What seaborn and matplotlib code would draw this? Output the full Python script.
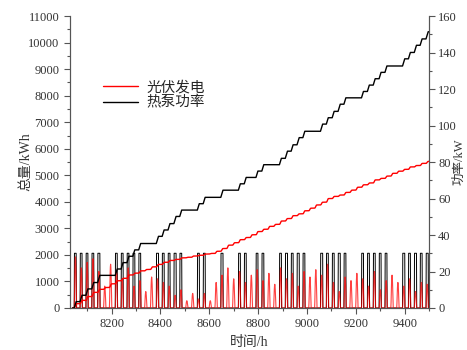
import matplotlib
matplotlib.use('Agg')

import matplotlib.pyplot as plt
from matplotlib.ticker import MultipleLocator
import seaborn as sns
import numpy as np
import pandas as pd

# first day shown starts at hour 8040, 61 days
start_hour = 8040

# heat pump: hours of operation per day at hp_kw (weekends / holidays = 0)
hp_kw = 30
hp_hours = [
    8, 8, 8, 8, 9, 0, 0,
    8, 8, 8, 8, 8, 0, 0,
    9, 8, 8, 9, 8, 0, 0,
    8, 8, 0, 0, 9, 0, 0,
    8, 8, 0, 8, 8, 0, 0,
    8, 9, 8, 9, 8, 0, 0,
    9, 8, 8, 9, 8, 0, 0,
    8, 8, 8, 8, 8, 0, 0,
    9, 8, 9, 8, 9,
]
hp_start = 8  # switched on at 8:00

# PV: daily peak power (kW) and normalised hourly profile from 8:00
pv_peak = [
    28, 22, 25, 27, 20, 12, 24,
    20, 16, 22, 12, 15, 9, 17,
    16, 14, 12, 7, 10, 4, 8,
    5, 8, 4, 14, 18, 22, 16,
    20, 14, 18, 21, 15, 19, 13,
    22, 16, 19, 12, 20, 17, 21,
    18, 24, 14, 9, 17, 15, 19,
    16, 12, 20, 10, 15, 18, 14,
    12, 16, 9, 14, 13,
]
pv_shape = [0.17, 0.5, 0.77, 0.94, 1.0, 0.94, 0.77, 0.5, 0.17]
pv_start = 8

# build hourly series
n_days = len(hp_hours)
hp_power = np.zeros(n_days * 24)
pv_power = np.zeros(n_days * 24)
for d in range(n_days):
    h0 = d * 24
    hp_power[h0 + hp_start:h0 + hp_start + hp_hours[d]] = hp_kw
    pv_power[h0 + pv_start:h0 + pv_start + len(pv_shape)] = np.array(pv_shape) * pv_peak[d]

df = pd.DataFrame({
    'hour': start_hour + np.arange(n_days * 24),
    'hp': hp_power,
    'pv': pv_power,
})
df['hp_cum'] = df['hp'].cumsum()
df['pv_cum'] = df['pv'].cumsum()

sns.set_style('ticks')
plt.rcParams['font.family'] = ['Liberation Serif', 'Noto Sans CJK SC']
plt.rcParams['axes.unicode_minus'] = False

fig = plt.figure(figsize=(4.67, 3.5), dpi=100)
ax = fig.add_axes([0.15, 0.12, 0.769, 0.834])
ax2 = ax.twinx()

# power on right axis
sns.lineplot(data=df, x='hour', y='hp', ax=ax2, color='black', linewidth=0.7)
sns.lineplot(data=df, x='hour', y='pv', ax=ax2, color='red', linewidth=0.8, alpha=0.75)

# cumulative on left axis, drawn on top
sns.lineplot(data=df, x='hour', y='pv_cum', ax=ax, color='red', linewidth=1.0, label='光伏发电')
sns.lineplot(data=df, x='hour', y='hp_cum', ax=ax, color='black', linewidth=1.0, label='热泵功率')
ax.set_zorder(ax2.get_zorder() + 1)
ax.patch.set_visible(False)

ax.set_xlim(8030, 9500)
ax.set_ylim(0, 11000)
ax2.set_ylim(0, 160)

ax.xaxis.set_major_locator(MultipleLocator(200))
ax.xaxis.set_minor_locator(MultipleLocator(100))
ax.yaxis.set_major_locator(MultipleLocator(1000))
ax.yaxis.set_minor_locator(MultipleLocator(500))
ax2.yaxis.set_major_locator(MultipleLocator(20))
ax2.yaxis.set_minor_locator(MultipleLocator(10))

for a in (ax, ax2):
    a.spines['top'].set_visible(False)
    for s in a.spines.values():
        s.set_color('#555555')
    a.tick_params(which='major', length=4, width=0.8, colors='#555555', labelcolor='#333333', labelsize=9)
    a.tick_params(which='minor', length=2.5, width=0.8, colors='#555555')
ax2.tick_params(which='major', pad=2.5)

ax.set_xlabel('时间/h', fontsize=10, color='#333333', labelpad=4)
ax.set_ylabel('总量/kWh', fontsize=10, color='#333333')
ax2.set_ylabel('功率/kW', fontsize=9, color='#333333')
ax.yaxis.set_label_coords(-0.105, 0.5)
ax2.yaxis.set_label_coords(1.067, 0.5)

ax.legend(loc='upper left', bbox_to_anchor=(0.075, 0.80), frameon=False,
          fontsize=10.5, handlelength=2.4, handletextpad=0.6,
          borderaxespad=0, labelspacing=0.1)

fig.savefig('out.png', dpi=100)
